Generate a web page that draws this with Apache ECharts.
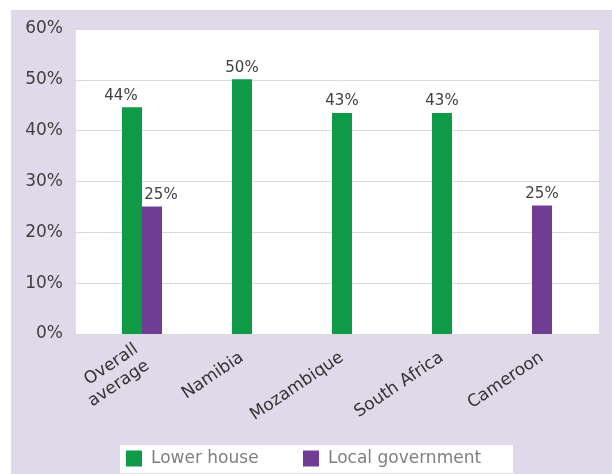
<!DOCTYPE html>
<html>
<head>
<meta charset="utf-8">
<script src="https://cdn.jsdelivr.net/npm/echarts@6/dist/echarts.min.js"></script>
<style>
html,body{margin:0;padding:0;background:#fff;}
#chart{width:612px;height:474px;}
</style>
</head>
<body>
<div id="chart"></div>
<script>
// ---- data ----
const categories = ['Overall\naverage', 'Namibia', 'Mozambique', 'South Africa', 'Cameroon'];
const lowerHouse = [44.6, 50.1, 43.5, 43.5, null];
const localGov = [25.1, null, null, null, 25.3];
const lowerLabels = ['44%', '50%', '43%', '43%', ''];
const localLabels = ['25%', '', '', '', '25%'];
const yTicks = [0, 10, 20, 30, 40, 50, 60];

// ---- build ----
const hasBoth = categories.map((c, i) => lowerHouse[i] != null && localGov[i] != null);
const pairLower = lowerHouse.map((v, i) => hasBoth[i] ? v : '-');
const pairLocal = localGov.map((v, i) => hasBoth[i] ? v : '-');
const singleLower = lowerHouse.map((v, i) => (!hasBoth[i] && v != null) ? v : '-');
const singleLocal = localGov.map((v, i) => (!hasBoth[i] && v != null) ? v : '-');

const GREEN = '#0F9A48';
const PURPLE = '#6F3E94';
const FONT = 'DejaVu Sans';

const chart = echarts.init(document.getElementById('chart'), null, {renderer: 'canvas'});
const labelStyle = {show: true, position: 'top', distance: 4, fontSize: 15, color: '#404040', fontFamily: FONT};

chart.setOption({
  animation: false,
  textStyle: {fontFamily: FONT},
  graphic: [
    {type: 'rect', z: -10, shape: {x: 11, y: 10, width: 601, height: 464}, style: {fill: '#E0D9EA'}},
    {type: 'rect', z: -5, shape: {x: 120, y: 445, width: 393, height: 28}, style: {fill: '#ffffff'}}
  ],
  grid: [
    {left: 76, right: 13, top: 29, bottom: 140, show: true, backgroundColor: '#ffffff', borderWidth: 0},
    {left: 92, right: 20, top: 29, bottom: 140}
  ],
  legend: [
    {data: ['Lower house'], left: 126, top: 450, padding: 0, itemWidth: 16, itemHeight: 16, icon: 'rect',
     textStyle: {fontSize: 17, color: '#7F7F7F', fontFamily: FONT, padding: [0, 0, 0, 4]}},
    {data: ['Local government'], left: 303, top: 450, padding: 0, itemWidth: 16, itemHeight: 16, icon: 'rect',
     textStyle: {fontSize: 17, color: '#7F7F7F', fontFamily: FONT, padding: [0, 0, 0, 4]}}
  ],
  xAxis: [
    {type: 'category', gridIndex: 0, data: categories, show: false},
    {type: 'category', gridIndex: 1, data: categories,
     axisLine: {show: false}, axisTick: {show: false},
     axisLabel: {rotate: 34, margin: 22, fontSize: 17, color: '#333333', fontFamily: FONT, lineHeight: 20, interval: 0}},
    {type: 'category', gridIndex: 1, data: categories, show: false}
  ],
  yAxis: [
    {type: 'value', gridIndex: 0, min: yTicks[0], max: yTicks[yTicks.length - 1], interval: 10,
     axisLine: {show: false},
     axisTick: {show: true, length: 8, lineStyle: {color: '#D9D9D9'}},
     splitLine: {show: true, lineStyle: {color: '#D9D9D9', width: 1}},
     axisLabel: {formatter: '{value}%', fontSize: 17, color: '#404040', margin: 13, fontFamily: FONT}},
    {type: 'value', gridIndex: 1, min: yTicks[0], max: yTicks[yTicks.length - 1], interval: 10, show: false}
  ],
  series: [
    {name: 'Lower house', type: 'bar', xAxisIndex: 1, yAxisIndex: 1, data: pairLower, barWidth: 20, barGap: 0,
     itemStyle: {color: GREEN},
     label: Object.assign({}, labelStyle, {offset: [-11, 0], formatter: p => lowerLabels[p.dataIndex]})},
    {name: 'Local government', type: 'bar', xAxisIndex: 1, yAxisIndex: 1, data: pairLocal, barWidth: 20, barGap: 0,
     itemStyle: {color: PURPLE},
     label: Object.assign({}, labelStyle, {offset: [9, 0], formatter: p => localLabels[p.dataIndex]})},
    {name: 'Lower house', type: 'bar', xAxisIndex: 2, yAxisIndex: 1, data: singleLower, barWidth: 20, stack: 'single',
     itemStyle: {color: GREEN},
     label: Object.assign({}, labelStyle, {formatter: p => lowerLabels[p.dataIndex]})},
    {name: 'Local government', type: 'bar', xAxisIndex: 2, yAxisIndex: 1, data: singleLocal, barWidth: 20, stack: 'single',
     itemStyle: {color: PURPLE},
     label: Object.assign({}, labelStyle, {formatter: p => localLabels[p.dataIndex]})}
  ]
});
</script>
</body>
</html>
